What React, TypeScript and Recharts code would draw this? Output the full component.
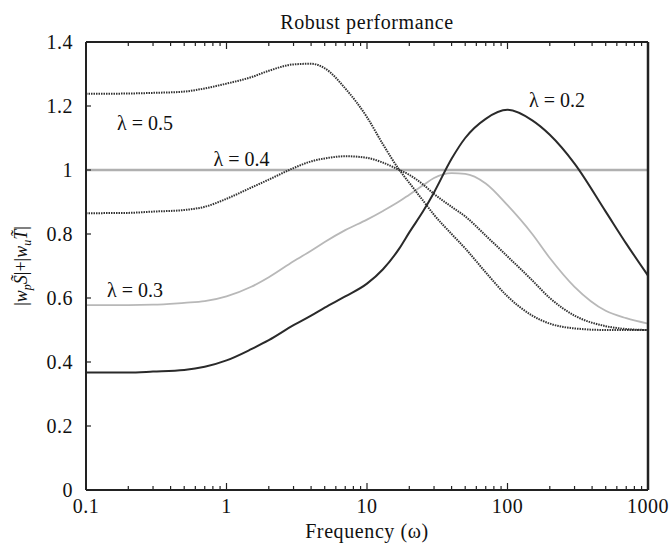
import React from 'react';
import {
  LineChart,
  Line,
  XAxis,
  YAxis,
  ReferenceLine,
  ReferenceDot,
} from 'recharts';

// frequency grid (rad/s) the curves were read at
const freqs = [
  0.1, 0.2, 0.3, 0.5, 0.7, 1, 1.5, 2, 3, 4, 5, 7, 10, 13, 17, 20, 25, 30, 40,
  50, 70, 100, 150, 200, 300, 500, 700, 1000,
];

const lambda05 = [
  1.238, 1.239, 1.241, 1.245, 1.255, 1.27, 1.29, 1.31, 1.33, 1.332, 1.318,
  1.255, 1.165, 1.08, 1.0, 0.96, 0.905, 0.86, 0.8, 0.755, 0.68, 0.605, 0.545,
  0.52, 0.505, 0.5, 0.5, 0.5,
];
const lambda04 = [
  0.865, 0.866, 0.87, 0.875, 0.885, 0.91, 0.945, 0.97, 1.006, 1.027, 1.036,
  1.043, 1.038, 1.023, 1.0, 0.985, 0.955, 0.925, 0.885, 0.855, 0.795, 0.73,
  0.655, 0.6, 0.545, 0.512, 0.503, 0.5,
];
const lambda03 = [
  0.578, 0.578, 0.579, 0.585, 0.59, 0.605, 0.635, 0.665, 0.715, 0.748, 0.775,
  0.812, 0.845, 0.872, 0.902, 0.923, 0.952, 0.975, 0.99, 0.988, 0.958, 0.89,
  0.8, 0.725, 0.635, 0.56, 0.537, 0.52,
];
const lambda02 = [
  0.367, 0.367, 0.37, 0.375, 0.385, 0.405, 0.44, 0.468, 0.515, 0.545, 0.57,
  0.605, 0.645, 0.69, 0.755, 0.805, 0.87, 0.93, 1.035, 1.1, 1.16, 1.188,
  1.155, 1.11, 1.02, 0.87, 0.77, 0.67,
];

const decades = [0.1, 1, 10, 100, 1000];
const xTicks = [
  0.1, 0.2, 0.3, 0.4, 0.5, 0.6, 0.7, 0.8, 0.9, 1, 2, 3, 4, 5, 6, 7, 8, 9, 10,
  20, 30, 40, 50, 60, 70, 80, 90, 100, 200, 300, 400, 500, 600, 700, 800, 900,
  1000,
];
const yTicks = [0, 0.2, 0.4, 0.6, 0.8, 1, 1.2, 1.4];

// curve labels: [text, freq, value]
const curveLabels: [string, number, number][] = [
  ['λ = 0.5', 0.263, 1.147],
  ['λ = 0.4', 1.28, 1.036],
  ['λ = 0.3', 0.223, 0.625],
  ['λ = 0.2', 225, 1.22],
];

const chartData = freqs.map((f, i) => ({
  f,
  l5: lambda05[i],
  l4: lambda04[i],
  l3: lambda03[i],
  l2: lambda02[i],
}));

const FONT = '"Liberation Serif", "Times New Roman", serif';
const INK = '#222';
const TXT = '#111';

const fmtY = (v: number) => (Number.isInteger(v) ? String(v) : v.toFixed(1));

const BottomTick = (props: any) => {
  const { x, y, payload } = props;
  const major = decades.includes(payload.value);
  return (
    <g>
      <line x1={x} y1={y - 1} x2={x} y2={y - 1 - (major ? 6 : 3)} stroke={INK} strokeWidth={1.2} />
      {major && (
        <text
          x={x}
          y={y + 23}
          textAnchor="middle"
          fill={TXT}
          fontSize={20}
          letterSpacing={0.5}
          fontFamily={FONT}
        >
          {payload.value}
        </text>
      )}
    </g>
  );
};

const TopTick = (props: any) => {
  const { x, y, payload } = props;
  const major = decades.includes(payload.value);
  return <line x1={x} y1={y + 1} x2={x} y2={y + 1 + (major ? 6 : 3)} stroke={INK} strokeWidth={1.2} />;
};

const LeftTick = (props: any) => {
  const { x, y, payload } = props;
  return (
    <g>
      <line x1={x} y1={y} x2={x + 5} y2={y} stroke={INK} strokeWidth={1.2} />
      <text
        x={x - 13}
        y={y + 7}
        textAnchor="end"
        fill={TXT}
        fontSize={20}
        letterSpacing={0.5}
        fontFamily={FONT}
      >
        {fmtY(payload.value)}
      </text>
    </g>
  );
};

const RightTick = (props: any) => {
  const { x, y } = props;
  return <line x1={x - 1} y1={y} x2={x - 6} y2={y} stroke={INK} strokeWidth={1.2} />;
};

export default function App() {
  return (
    <div
      style={{
        position: 'absolute',
        left: 0,
        top: 0,
        width: 669,
        height: 543,
        background: '#fff',
        fontFamily: FONT,
        color: TXT,
      }}
    >
      <div
        style={{
          position: 'absolute',
          left: 367,
          top: 22,
          transform: 'translate(-50%, -50%)',
          fontSize: 20,
          letterSpacing: 0.6,
          whiteSpace: 'nowrap',
        }}
      >
        Robust performance
      </div>
      <div
        style={{
          position: 'absolute',
          left: 367,
          top: 531,
          transform: 'translate(-50%, -50%)',
          fontSize: 20,
          letterSpacing: 0.6,
          whiteSpace: 'nowrap',
        }}
      >
        Frequency (ω)
      </div>
      <div
        style={{
          position: 'absolute',
          left: 23,
          top: 266,
          transform: 'translate(-50%, -50%) rotate(-90deg)',
          fontSize: 18,
          whiteSpace: 'nowrap',
        }}
      >
        |<i>w</i>
        <sub style={{ fontSize: 12 }}>
          <i>p</i>
        </sub>
        <i>S̃</i>|+|<i>w</i>
        <sub style={{ fontSize: 12 }}>
          <i>u</i>
        </sub>
        <i>T̃</i>|
      </div>
      <LineChart
        width={669}
        height={543}
        data={chartData}
        margin={{ top: 41, right: 20, bottom: 52, left: 0 }}
        style={{ position: 'absolute', left: 0, top: 0 }}
      >
        <XAxis
          dataKey="f"
          type="number"
          scale="log"
          domain={[0.1, 1000]}
          ticks={xTicks}
          interval={0}
          allowDataOverflow
          height={1}
          tickSize={0}
          tickMargin={0}
          tickLine={false}
          tick={<BottomTick />}
          axisLine={{ stroke: INK, strokeWidth: 2 }}
        />
        <XAxis
          xAxisId="top"
          orientation="top"
          dataKey="f"
          type="number"
          scale="log"
          domain={[0.1, 1000]}
          ticks={xTicks}
          interval={0}
          allowDataOverflow
          height={1}
          tickSize={0}
          tickMargin={0}
          tickLine={false}
          tick={<TopTick />}
          axisLine={{ stroke: INK, strokeWidth: 2 }}
        />
        <YAxis
          type="number"
          domain={[0, 1.4]}
          ticks={yTicks}
          interval={0}
          width={86}
          tickSize={0}
          tickMargin={0}
          tickLine={false}
          tick={<LeftTick />}
          axisLine={{ stroke: INK, strokeWidth: 2 }}
        />
        <YAxis
          yAxisId="right"
          orientation="right"
          type="number"
          domain={[0, 1.4]}
          ticks={yTicks}
          interval={0}
          width={1}
          tickSize={0}
          tickMargin={0}
          tickLine={false}
          tick={<RightTick />}
          axisLine={{ stroke: INK, strokeWidth: 2.5 }}
        />
        <ReferenceLine y={1} stroke="#b0b0b0" strokeWidth={2.5} />
        <Line
          type="monotone"
          dataKey="l3"
          stroke="#b8b8b8"
          strokeWidth={1.8}
          dot={false}
          isAnimationActive={false}
        />
        <Line
          type="monotone"
          dataKey="l4"
          stroke="#333"
          strokeWidth={2}
          strokeDasharray="1.5 1"
          dot={false}
          isAnimationActive={false}
        />
        <Line
          type="monotone"
          dataKey="l5"
          stroke="#333"
          strokeWidth={2}
          strokeDasharray="1.5 1"
          dot={false}
          isAnimationActive={false}
        />
        <Line
          type="monotone"
          dataKey="l2"
          stroke="#2a2a2a"
          strokeWidth={2}
          dot={false}
          isAnimationActive={false}
        />
        {curveLabels.map(([text, fx, fy]) => (
          <ReferenceDot
            key={text}
            x={fx}
            y={fy}
            r={0}
            ifOverflow="visible"
            stroke="none"
            fill="none"
            label={{ value: text, position: 'center', fill: TXT, fontSize: 20, fontFamily: FONT }}
          />
        ))}
      </LineChart>
    </div>
  );
}
